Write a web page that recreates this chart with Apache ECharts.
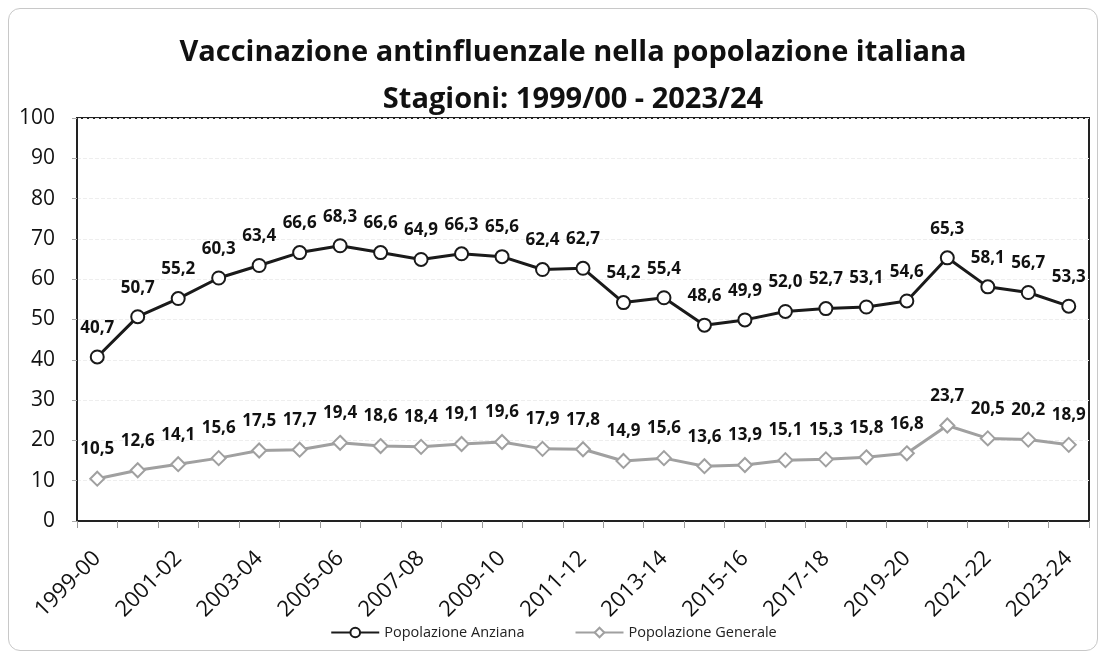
<!DOCTYPE html>
<html><head><meta charset="utf-8">
<script src="https://cdn.jsdelivr.net/npm/echarts@6/dist/echarts.min.js"></script>
<style>html,body{margin:0;padding:0;background:#fff}#frame{position:absolute;left:8px;top:8px;width:1090px;height:643px;border:1.5px solid #c8c8c8;border-radius:12px;box-sizing:border-box}#c{width:1107px;height:659px;position:absolute;left:0;top:0}</style>
</head><body><div id="frame"></div><div id="c"></div>
<script>
const categories = ['1999-00','2000-01','2001-02','2002-03','2003-04','2004-05','2005-06','2006-07','2007-08','2008-09','2009-10','2010-11','2011-12','2012-13','2013-14','2014-15','2015-16','2016-17','2017-18','2018-19','2019-20','2020-21','2021-22','2022-23','2023-24'];
const anziana = [40.7,50.7,55.2,60.3,63.4,66.6,68.3,66.6,64.9,66.3,65.6,62.4,62.7,54.2,55.4,48.6,49.9,52.0,52.7,53.1,54.6,65.3,58.1,56.7,53.3];
const generale = [10.5,12.6,14.1,15.6,17.5,17.7,19.4,18.6,18.4,19.1,19.6,17.9,17.8,14.9,15.6,13.6,13.9,15.1,15.3,15.8,16.8,23.7,20.5,20.2,18.9];
const titleLines = ['Vaccinazione antinfluenzale nella popolazione italiana','Stagioni: 1999/00 - 2023/24'];
const seriesNames = ['Popolazione Anziana','Popolazione Generale'];

const chart = echarts.init(document.getElementById('c'));
const fmt = p => p.value.toFixed(1).replace('.', ',');
chart.setOption({
  animation:false,
  title:{text:titleLines.join('\n'),left:568,top:24,textAlign:'center',textStyle:{fontFamily:'Open Sans',fontWeight:'bold',fontSize:29,lineHeight:47,color:'#111'}},
  legend:{bottom:14,left:'center',itemGap:50,itemWidth:48,itemHeight:12,textStyle:{fontFamily:'Open Sans',fontSize:14.5,color:'#222'},data:seriesNames},
  grid:{left:77,right:18,top:118,bottom:138,containLabel:false,show:true,borderColor:'#222',borderWidth:2},
  xAxis:{type:'category',data:categories,boundaryGap:true,
    axisLine:{lineStyle:{color:'#222',width:2}},
    axisTick:{show:true,interval:0,length:7,lineStyle:{color:'#999'}},
    axisLabel:{interval:1,rotate:45,fontFamily:'Open Sans',fontSize:22,color:'#111',margin:34},
    splitLine:{show:false}},
  yAxis:{type:'value',min:0,max:100,interval:10,
    axisLine:{show:true,lineStyle:{color:'#222',width:2}},
    axisTick:{show:true,length:5,lineStyle:{color:'#aaa'}},
    axisLabel:{fontFamily:'Open Sans',fontSize:21,color:'#111',margin:22},
    splitLine:{show:true,lineStyle:{color:'#eee',type:'dashed'}}},
  series:[
    {name:seriesNames[0],type:'line',data:anziana,symbol:'circle',symbolSize:13,
     lineStyle:{color:'#1a1a1a',width:3},itemStyle:{color:'#fff',borderColor:'#1a1a1a',borderWidth:2},
     label:{show:true,position:'top',distance:13,formatter:fmt,fontFamily:'Open Sans',fontWeight:'bold',fontSize:17,color:'#111'}},
    {name:seriesNames[1],type:'line',data:generale,symbol:'diamond',symbolSize:14,
     lineStyle:{color:'#a0a0a0',width:3},itemStyle:{color:'#fff',borderColor:'#a0a0a0',borderWidth:2},
     label:{show:true,position:'top',distance:13,formatter:fmt,fontFamily:'Open Sans',fontWeight:'bold',fontSize:17,color:'#111'}}
  ]
});
</script></body></html>
